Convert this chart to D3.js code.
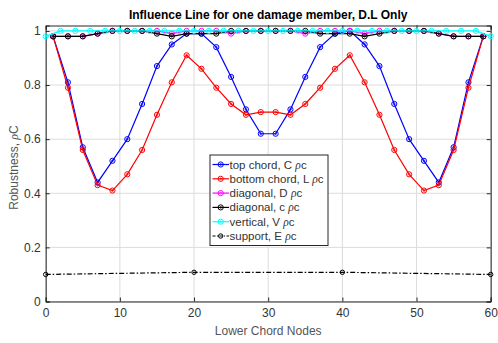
<!DOCTYPE html>
<html><head><meta charset="utf-8">
<script src="https://cdn.jsdelivr.net/npm/d3@7"></script>
<style>body{margin:0;background:#fff}svg{display:block}</style>
</head><body>
<script>
const oddNodes = d3.range(1, 60, 2);
const evenNodes = d3.range(0, 61, 2);
const supportNodes = [0, 20, 40, 60];
const topChord = [0.98,0.81,0.57,0.44,0.52,0.60,0.73,0.87,0.95,0.99,0.99,0.94,0.83,0.71,0.62,0.62,0.71,0.83,0.94,0.99,1.00,0.95,0.87,0.73,0.60,0.52,0.44,0.57,0.81,0.98];
const bottomChord = [0.98,0.79,0.56,0.43,0.41,0.47,0.56,0.69,0.81,0.91,0.86,0.79,0.73,0.69,0.70,0.70,0.69,0.73,0.79,0.86,0.91,0.81,0.69,0.56,0.47,0.41,0.43,0.56,0.79,0.98];
const diagonalD = [0.98,0.98,0.98,0.99,1,1,1,1,0.99,1,1,1,0.99,1,1,1,1,0.99,1,1,1,0.99,1,1,1,1,0.99,0.98,0.98,0.98];
const diagonalC = [0.98,0.98,0.98,0.99,1,1,1,0.99,0.98,0.99,0.99,0.99,1,1,1,1,1,1,0.99,0.99,0.99,0.98,0.99,1,1,1,0.99,0.98,0.98,0.98];
const vertical = [0.98].concat(d3.range(29).map(() => 1.00)).concat([0.98]);
const support = [0.100,0.108,0.108,0.100];
const xTicks = [0,10,20,30,40,50,60];
const yTicks = [0,0.2,0.4,0.6,0.8,1];

const W = 498, H = 343;
const m = {l:45.7, r:7.3, t:25.5, b:41.5};
const svg = d3.select("body").append("svg").attr("width", W).attr("height", H);
const x = d3.scaleLinear().domain([0,60]).range([m.l, W - m.r]);
const y = d3.scaleLinear().domain([0,1.02]).range([H - m.b, m.t]);
const font = "'Liberation Sans', Arial, Helvetica, sans-serif";

// grid
svg.append("g").selectAll("line").data(xTicks).join("line")
  .attr("x1", d => x(d)).attr("x2", d => x(d)).attr("y1", m.t).attr("y2", H - m.b)
  .attr("stroke", "#dcdcdc").attr("stroke-width", 1);
svg.append("g").selectAll("line").data(yTicks).join("line")
  .attr("y1", d => y(d)).attr("y2", d => y(d)).attr("x1", m.l).attr("x2", W - m.r)
  .attr("stroke", "#dcdcdc").attr("stroke-width", 1);

// axes
const xAxis = d3.axisBottom(x).tickValues(xTicks).tickSize(-4).tickPadding(7).tickFormat(d3.format("d"));
const yAxis = d3.axisLeft(y).tickValues(yTicks).tickSize(-4).tickPadding(5).tickFormat(d => d === 0 ? "0" : d === 1 ? "1" : d3.format(".1f")(d));
const gx = svg.append("g").attr("transform", `translate(0,${H - m.b})`).call(xAxis);
const gy = svg.append("g").attr("transform", `translate(${m.l},0)`).call(yAxis);
svg.append("g").attr("transform", `translate(0,${m.t})`).call(d3.axisTop(x).tickValues(xTicks).tickSize(-4).tickFormat(""));
svg.append("g").attr("transform", `translate(${W - m.r},0)`).call(d3.axisRight(y).tickValues(yTicks).tickSize(-4).tickFormat(""));
svg.selectAll(".domain").attr("stroke", "#262626");
svg.selectAll(".tick line").attr("stroke", "#262626");
[gx, gy].forEach(g => g.selectAll("text").attr("font-family", font).attr("font-size", 12).attr("fill", "#333"));

// series
const series = [
  {name:"top chord, C ", xs: oddNodes, ys: topChord, color:"#0000ff", dash:null},
  {name:"bottom chord, L ", xs: oddNodes, ys: bottomChord, color:"#ff0000", dash:null},
  {name:"diagonal, D ", xs: oddNodes, ys: diagonalD, color:"#ff00ff", dash:null},
  {name:"diagonal, c ", xs: oddNodes, ys: diagonalC, color:"#000000", dash:null},
  {name:"vertical, V ", xs: evenNodes, ys: vertical, color:"#00ffff", dash:null},
  {name:"support, E ", xs: supportNodes, ys: support, color:"#000000", dash:"5,2,1.5,2"}
];
const line = d3.line().x(d => x(d[0])).y(d => y(d[1]));
function marker(g, cx, cy, color, cross) {
  g.append("circle").attr("cx", cx).attr("cy", cy).attr("r", cross ? 2.6 : 2.2)
    .attr("fill", "none").attr("stroke", color).attr("stroke-width", 1);
  if (cross) {
    g.append("circle").attr("cx", cx).attr("cy", cy).attr("r", 0.9)
      .attr("fill", "none").attr("stroke", color).attr("stroke-width", 0.7);
  }
}
series.forEach((s, i) => {
  const pts = s.xs.map((xv, j) => [xv, s.ys[j]]);
  const g = svg.append("g");
  g.append("path").datum(pts).attr("d", line).attr("fill", "none")
    .attr("stroke", s.color).attr("stroke-width", 1.2)
    .attr("stroke-dasharray", s.dash);
  pts.forEach(p => marker(g, x(p[0]), y(p[1]), s.color, i < 5));
});

// legend
const lg = svg.append("g");
const lx = 210, ly = 155, lw = 118, lh = 90.5;
lg.append("rect").attr("x", lx).attr("y", ly).attr("width", lw).attr("height", lh)
  .attr("fill", "#fff").attr("stroke", "#262626").attr("stroke-width", 1);
series.forEach((s, i) => {
  const yy = ly + 9.5 + i * 14.3;
  lg.append("line").attr("x1", lx + 2.5).attr("x2", lx + 19).attr("y1", yy).attr("y2", yy)
    .attr("stroke", s.color).attr("stroke-width", 1.2).attr("stroke-dasharray", s.dash ? "3,1.5,1,1.5" : null);
  marker(lg, lx + 10.7, yy, s.color, i < 5);
  const t = lg.append("text").attr("x", lx + 19.5).attr("y", yy + 4)
    .attr("font-family", font).attr("font-size", 11.5).attr("fill", "#333");
  t.append("tspan").text(s.name);
  t.append("tspan").attr("font-style", "italic").attr("font-family", "'Liberation Serif', serif").text("ρ");
  t.append("tspan").text("c");
});

// titles
svg.append("text").attr("x", (m.l + W - m.r) / 2).attr("y", 19).attr("text-anchor", "middle")
  .attr("font-family", font).attr("font-size", 12).attr("font-weight", "bold").attr("fill", "#000")
  .text("Influence Line for one damage member, D.L Only");
svg.append("text").attr("x", (m.l + W - m.r) / 2).attr("y", 335).attr("text-anchor", "middle")
  .attr("font-family", font).attr("font-size", 12).attr("fill", "#555")
  .text("Lower Chord Nodes");
const yl = svg.append("text").attr("transform", `translate(18,${(m.t + H - m.b) / 2 + 4}) rotate(-90)`)
  .attr("text-anchor", "middle").attr("font-family", font).attr("font-size", 12).attr("fill", "#555");
yl.append("tspan").text("Robustness, ");
yl.append("tspan").attr("font-style", "italic").attr("font-family", "'Liberation Serif', serif").text("ρ");
yl.append("tspan").text("C");
</script>
</body></html>
